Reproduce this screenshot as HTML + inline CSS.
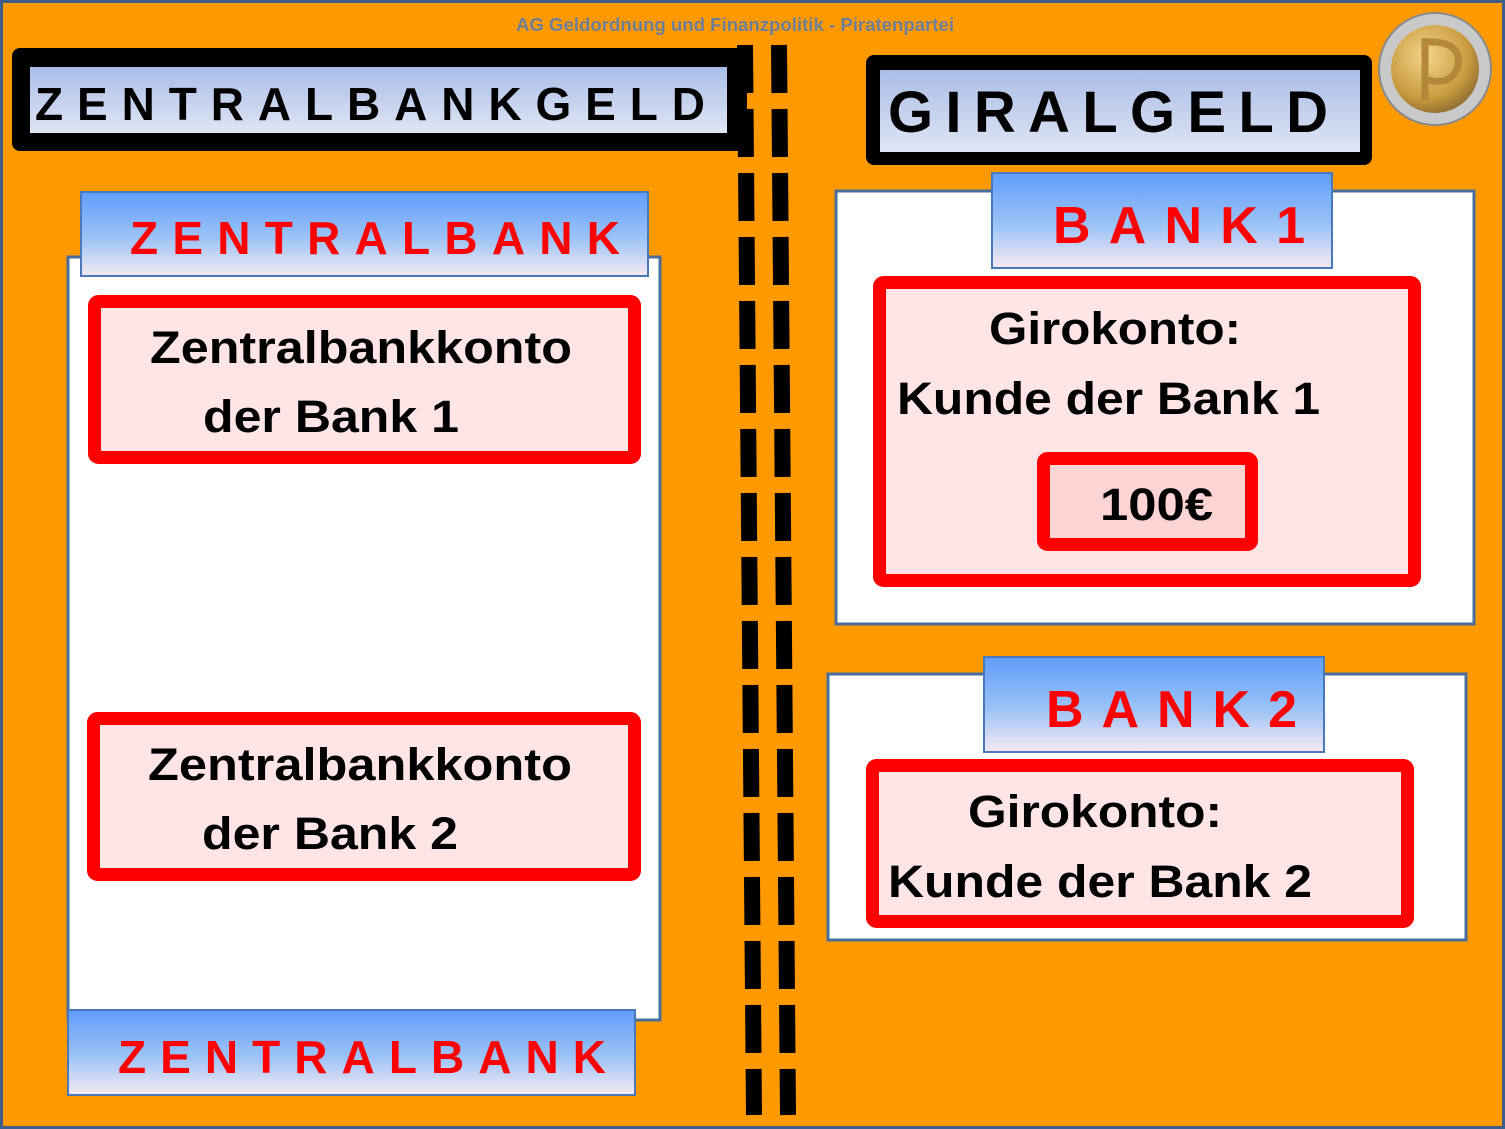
<!DOCTYPE html>
<html><head><meta charset="utf-8"><style>
html,body{margin:0;padding:0;background:#FF9900}
svg{display:block}
text{font-family:"Liberation Sans",sans-serif;font-weight:bold}
</style></head><body>
<svg width="1505" height="1129" viewBox="0 0 1505 1129" xmlns="http://www.w3.org/2000/svg">
<defs>
<linearGradient id="gl" x1="0" y1="0" x2="0" y2="1"><stop offset="0" stop-color="#a9bde6"/><stop offset="1" stop-color="#dfe6f5"/></linearGradient>
<linearGradient id="gb" x1="0" y1="0" x2="0" y2="1"><stop offset="0" stop-color="#5f9dfa"/><stop offset="0.55" stop-color="#9cc3f7"/><stop offset="1" stop-color="#f6e9f2"/></linearGradient>
<radialGradient id="coin" cx="0.4" cy="0.35" r="0.7"><stop offset="0" stop-color="#f3d58c"/><stop offset="0.7" stop-color="#c89a3f"/><stop offset="1" stop-color="#8a6a30"/></radialGradient>
</defs>
<rect x="1.5" y="1.5" width="1502" height="1126" fill="#FF9900" stroke="#3d5e88" stroke-width="3"/>
<text x="735" y="31" font-size="18" fill="#6f7f98" text-anchor="middle" textLength="438" lengthAdjust="spacingAndGlyphs">AG Geldordnung und Finanzpolitik - Piratenpartei</text>

<line x1="745" y1="45" x2="754" y2="1115" stroke="#000" stroke-width="16" stroke-dasharray="48 16"/>
<line x1="779" y1="45" x2="788" y2="1115" stroke="#000" stroke-width="16" stroke-dasharray="48 16"/>

<rect x="12" y="48" width="735" height="103" rx="8" fill="#000"/>
<rect x="30" y="67" width="697" height="66" fill="url(#gl)"/>
<text x="35" y="120" font-size="46" fill="#000" textLength="670" lengthAdjust="spacing">ZENTRALBANKGELD</text>

<rect x="866" y="55" width="506" height="110" rx="8" fill="#000"/>
<rect x="880" y="70" width="480" height="82" fill="url(#gl)"/>
<text x="888" y="132" font-size="58" fill="#000" textLength="440" lengthAdjust="spacing">GIRALGELD</text>

<circle cx="1435" cy="69" r="56" fill="#c9c9c9" stroke="#8a8a8a" stroke-width="2"/>
<circle cx="1435" cy="69" r="44" fill="url(#coin)"/>
<path d="M1425 38 L1425 100 M1425 42 Q1462 40 1458 66 Q1452 86 1428 80" fill="none" stroke="#b4873a" stroke-width="7"/>

<rect x="68" y="257" width="592" height="763" fill="#fff" stroke="#4a6d9c" stroke-width="3"/>
<rect x="81" y="192" width="567" height="84" fill="url(#gb)" stroke="#4a78b8" stroke-width="2"/>
<text x="130" y="254" font-size="46" fill="#f00" textLength="490" lengthAdjust="spacing">ZENTRALBANK</text>

<rect x="94.5" y="301.5" width="540" height="156" rx="4" fill="#fde5e5" stroke="#f00" stroke-width="13"/>
<text x="150" y="363" font-size="45" fill="#000" textLength="422" lengthAdjust="spacingAndGlyphs">Zentralbankkonto</text>
<text x="203" y="432" font-size="45" fill="#000" textLength="256" lengthAdjust="spacingAndGlyphs">der Bank 1</text>

<rect x="93.5" y="718.5" width="541" height="156" rx="4" fill="#fde5e5" stroke="#f00" stroke-width="13"/>
<text x="148" y="780" font-size="45" fill="#000" textLength="424" lengthAdjust="spacingAndGlyphs">Zentralbankkonto</text>
<text x="202" y="849" font-size="45" fill="#000" textLength="256" lengthAdjust="spacingAndGlyphs">der Bank 2</text>

<rect x="68" y="1010" width="567" height="85" fill="url(#gb)" stroke="#4a78b8" stroke-width="2"/>
<text x="118" y="1073" font-size="46" fill="#f00" textLength="488" lengthAdjust="spacing">ZENTRALBANK</text>

<rect x="836" y="191" width="638" height="433" fill="#fff" stroke="#4a6d9c" stroke-width="3"/>
<rect x="992" y="173" width="340" height="95" fill="url(#gb)" stroke="#4a78b8" stroke-width="2"/>
<text x="1053" y="243" font-size="52" fill="#f00" textLength="252" lengthAdjust="spacing">BANK1</text>
<rect x="879.5" y="282.5" width="535" height="298" rx="4" fill="#fde5e5" stroke="#f00" stroke-width="13"/>
<text x="989" y="344" font-size="45" fill="#000" textLength="252" lengthAdjust="spacingAndGlyphs">Girokonto:</text>
<text x="897" y="414" font-size="45" fill="#000" textLength="423" lengthAdjust="spacingAndGlyphs">Kunde der Bank 1</text>
<rect x="1043.5" y="458.5" width="208" height="86" rx="4" fill="#fdd4d4" stroke="#f00" stroke-width="13"/>
<text x="1100" y="520" font-size="45" fill="#000" textLength="113" lengthAdjust="spacingAndGlyphs">100€</text>

<rect x="828" y="674" width="638" height="266" fill="#fff" stroke="#4a6d9c" stroke-width="3"/>
<rect x="984" y="657" width="340" height="95" fill="url(#gb)" stroke="#4a78b8" stroke-width="2"/>
<text x="1046" y="727" font-size="52" fill="#f00" textLength="251" lengthAdjust="spacing">BANK2</text>
<rect x="872.5" y="765.5" width="535" height="156" rx="4" fill="#fde5e5" stroke="#f00" stroke-width="13"/>
<text x="968" y="827" font-size="45" fill="#000" textLength="254" lengthAdjust="spacingAndGlyphs">Girokonto:</text>
<text x="888" y="897" font-size="45" fill="#000" textLength="424" lengthAdjust="spacingAndGlyphs">Kunde der Bank 2</text>
</svg>
</body></html>
